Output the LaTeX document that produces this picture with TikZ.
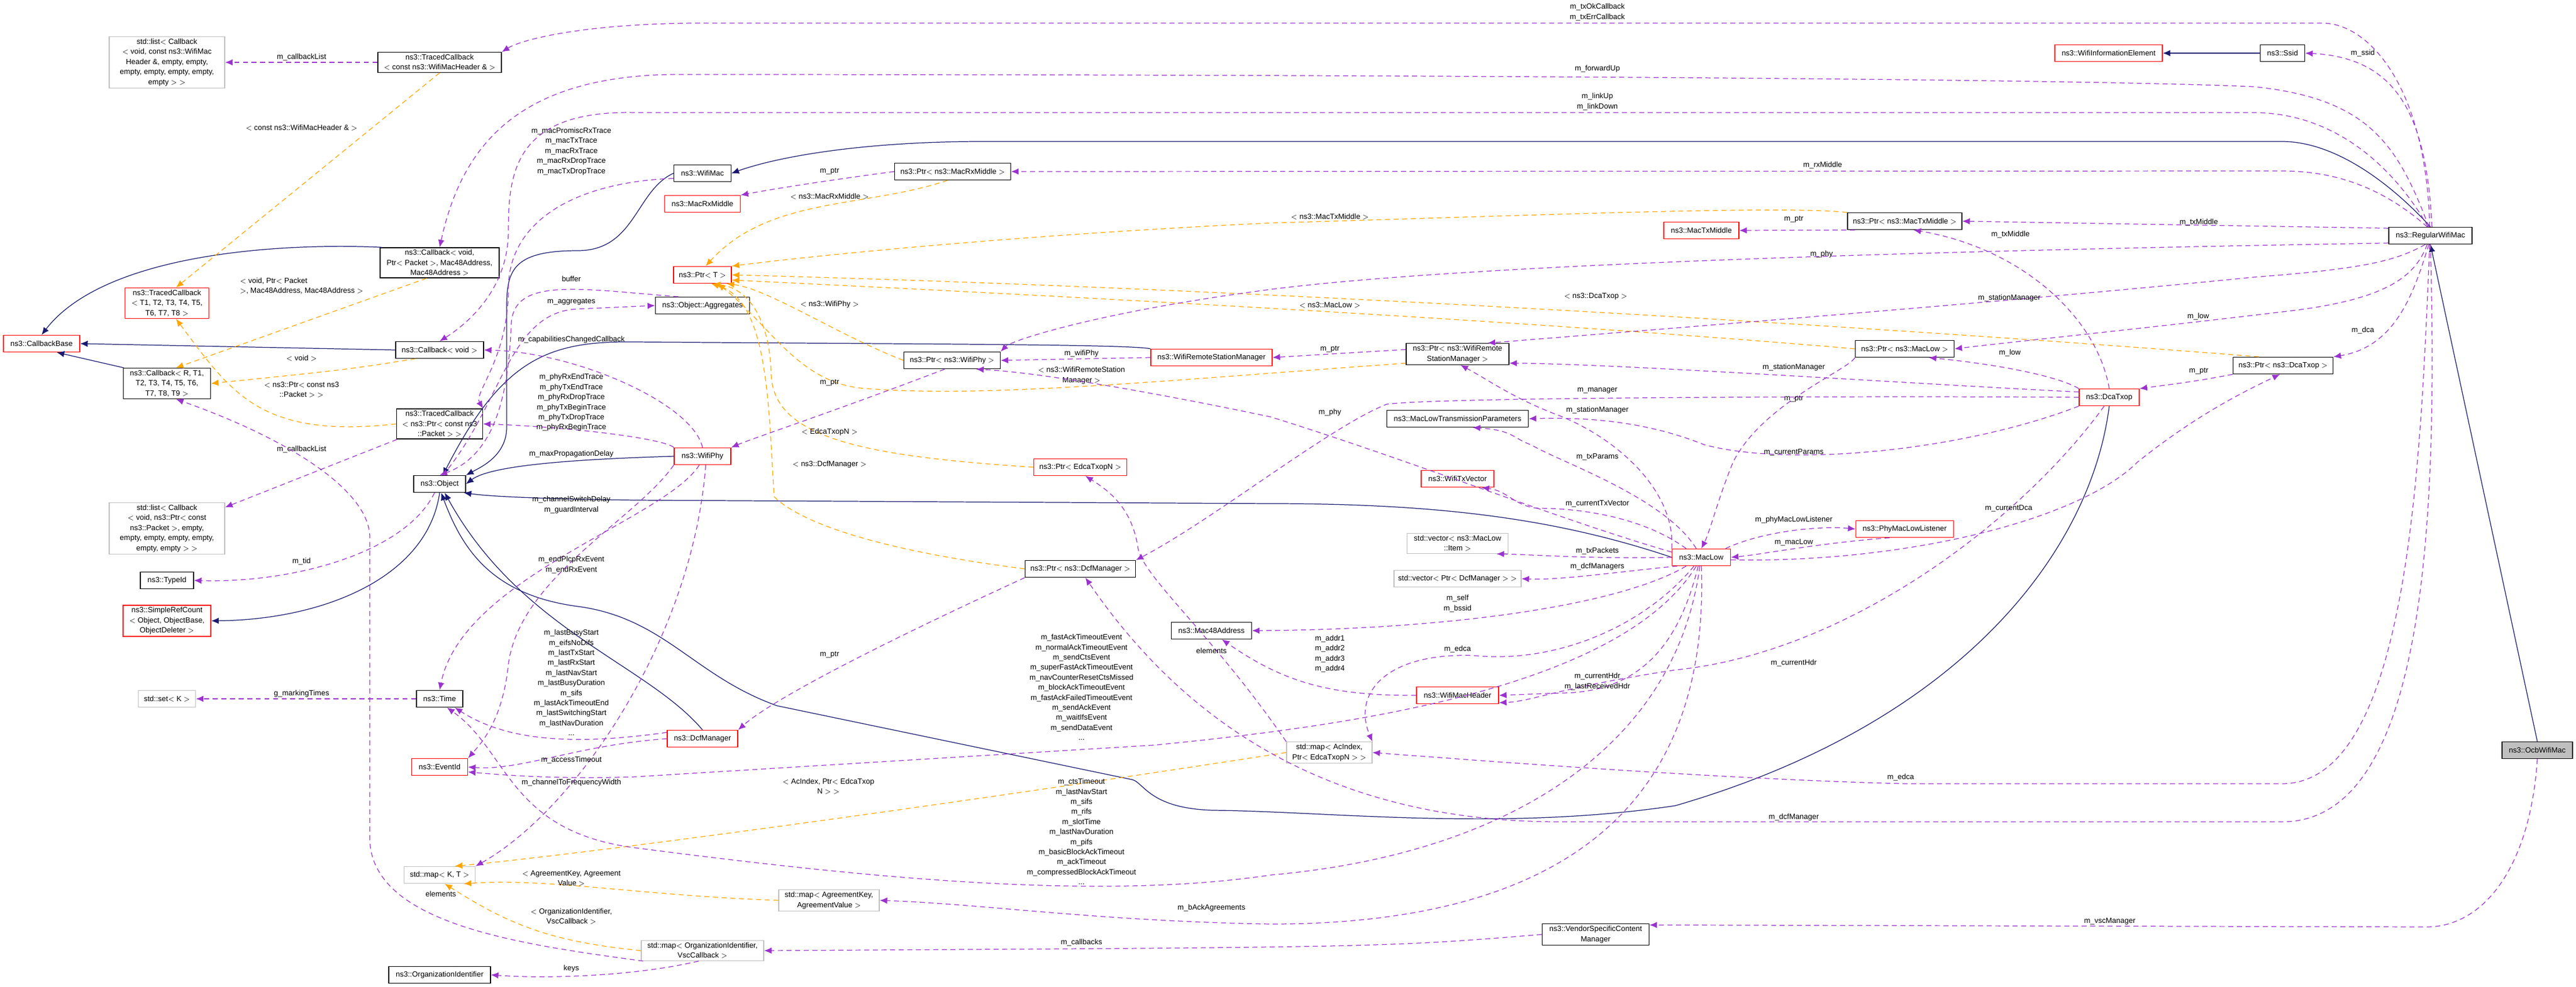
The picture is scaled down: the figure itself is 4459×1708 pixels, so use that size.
\documentclass[tikz,border=0pt]{standalone}
\usepackage{fontspec}
\setmainfont{Liberation Sans}
\usetikzlibrary{arrows.meta}
\definecolor{inhcol}{HTML}{191970}
\definecolor{usecol}{HTML}{9A32CD}
\definecolor{tplcol}{HTML}{FFA500}
\definecolor{stdcol}{HTML}{BFBFBF}

\begin{document}
\begin{tikzpicture}[
                      x = 0.02cm,
                      y = -0.02cm,
      every node/.style = {font=\fontsize{7.4}{9.9}\selectfont, align=center, inner sep=2pt},
              cls/.style = {draw=black, line width=0.8pt, minimum height=0.58cm},
           redcls/.style = {cls, draw=red},
           stdcls/.style = {cls, draw=stdcol},
              lbl/.style = {inner sep=0pt},
              inh/.style = {draw=inhcol, line width=0.7pt, -{Latex[length=2.6mm,width=2.2mm]}},
              use/.style = {draw=usecol, line width=0.7pt, dash pattern=on 5pt off 3.5pt, -{Latex[length=2.6mm,width=2.2mm]}},
              tpl/.style = {use, draw=tplcol},
                     ]
\useasboundingbox (0,0) rectangle (4459,1708);

% classes, left column
\node[stdcls, minimum width=4cm] (stdListHdr) at (289,108) {std::list$<$ Callback\\$<$ void, const ns3::WifiMac\\Header \&, empty, empty,\\empty, empty, empty, empty,\\empty $>$ $>$};
\node[redcls, minimum width=2.9cm] (tcbT) at (289,525) {ns3::TracedCallback\\$<$ T1, T2, T3, T4, T5,\\T6, T7, T8 $>$};
\node[redcls, minimum width=2.64cm] (cbBase) at (72,595) {ns3::CallbackBase};
\node[cls, minimum width=3.02cm] (cbR) at (289,664) {ns3::Callback$<$ R, T1,\\T2, T3, T4, T5, T6,\\T7, T8, T9 $>$};
\node[stdcls, minimum width=4cm] (stdListPkt) at (289,915) {std::list$<$ Callback\\$<$ void, ns3::Ptr$<$ const\\ns3::Packet $>$, empty,\\empty, empty, empty, empty,\\empty, empty $>$ $>$};
\node[cls, minimum width=1.84cm] (typeId) at (289,1005) {ns3::TypeId};
\node[redcls, minimum width=3.04cm] (refCount) at (289,1075) {ns3::SimpleRefCount\\$<$ Object, ObjectBase,\\ObjectDeleter $>$};
\node[stdcls, minimum width=1.98cm] (stdSet) at (289,1210) {std::set$<$ K $>$};

% classes, second column
\node[cls, minimum width=4.28cm] (tcbHdr) at (761,108) {ns3::TracedCallback\\$<$ const ns3::WifiMacHeader \& $>$};
\node[cls, minimum width=4.12cm] (cbMac48) at (761,455) {ns3::Callback$<$ void,\\Ptr$<$ Packet $>$, Mac48Address,\\Mac48Address $>$};
\node[cls, minimum width=3.04cm] (cbVoid) at (761,606) {ns3::Callback$<$ void $>$};
\node[cls, minimum width=2.98cm] (tcbPkt) at (761,734) {ns3::TracedCallback\\$<$ ns3::Ptr$<$ const ns3\\::Packet $>$ $>$};
\node[cls, minimum width=1.8cm] (object) at (761,838) {ns3::Object};
\node[cls, minimum width=1.6cm] (time) at (761,1210) {ns3::Time};
\node[redcls, minimum width=1.94cm] (eventId) at (761,1328) {ns3::EventId};
\node[stdcls, minimum width=2.46cm] (stdMap) at (761,1515) {std::map$<$ K, T $>$};
\node[cls, minimum width=3.52cm] (orgId) at (761,1688) {ns3::OrganizationIdentifier};

% classes, third column
\node[cls, minimum width=1.98cm] (wifiMac) at (1216,300) {ns3::WifiMac};
\node[redcls, minimum width=2.62cm] (macRxMiddle) at (1216,353) {ns3::MacRxMiddle};
\node[redcls, minimum width=2cm] (ptrT) at (1216,476) {ns3::Ptr$<$ T $>$};
\node[cls, minimum width=3.26cm] (aggregates) at (1216,529) {ns3::Object::Aggregates};
\node[redcls, minimum width=1.96cm] (wifiPhy) at (1216,790) {ns3::WifiPhy};
\node[redcls, minimum width=2.44cm] (dcfManager) at (1216,1279) {ns3::DcfManager};
\node[stdcls, minimum width=4.24cm] (mapOrg) at (1216,1646) {std::map$<$ OrganizationIdentifier,\\VscCallback $>$};
\node[stdcls, minimum width=3.48cm] (mapAgreement) at (1435,1559) {std::map$<$ AgreementKey,\\AgreementValue $>$};

% classes, middle
\node[cls, minimum width=4.02cm] (ptrRxMiddle) at (1649,297) {ns3::Ptr$<$ ns3::MacRxMiddle $>$};
\node[cls, minimum width=3.34cm] (ptrWifiPhy) at (1648,624) {ns3::Ptr$<$ ns3::WifiPhy $>$};
\node[redcls, minimum width=3.22cm] (ptrEdca) at (1870,809) {ns3::Ptr$<$ EdcaTxopN $>$};
\node[cls, minimum width=3.82cm] (ptrDcfManager) at (1870,985) {ns3::Ptr$<$ ns3::DcfManager $>$};
\node[redcls, minimum width=4.2cm] (stationManager) at (2097,619) {ns3::WifiRemoteStationManager};
\node[cls, minimum width=2.78cm] (mac48) at (2097,1092) {ns3::Mac48Address};
\node[stdcls, minimum width=2.96cm] (mapAc) at (2301,1303) {std::map$<$ AcIndex,\\Ptr$<$ EdcaTxopN $>$ $>$};
\node[cls, minimum width=3.56cm] (ptrStation) at (2523,613) {ns3::Ptr$<$ ns3::WifiRemote\\StationManager $>$};
\node[cls, minimum width=4.9cm] (lowParams) at (2523,725) {ns3::MacLowTransmissionParameters};
\node[redcls, minimum width=2.52cm] (txVector) at (2523,829) {ns3::WifiTxVector};
\node[stdcls, minimum width=3.5cm] (vecItem) at (2523,941) {std::vector$<$ ns3::MacLow\\::Item $>$};
\node[stdcls, minimum width=4.4cm] (vecDcf) at (2523,1002) {std::vector$<$ Ptr$<$ DcfManager $>$ $>$};
\node[redcls, minimum width=2.84cm] (macHeader) at (2523,1204) {ns3::WifiMacHeader};
\node[cls, minimum width=3.7cm] (vscManager) at (2762,1618) {ns3::VendorSpecificContent\\Manager};
\node[redcls, minimum width=2.6cm] (macTxMiddle) at (2945,399) {ns3::MacTxMiddle};
\node[redcls, minimum width=2.02cm] (macLow) at (2945,965) {ns3::MacLow};

% classes, right
\node[cls, minimum width=3.96cm] (ptrTxMiddle) at (3297,383) {ns3::Ptr$<$ ns3::MacTxMiddle $>$};
\node[cls, minimum width=3.42cm] (ptrMacLow) at (3297,604) {ns3::Ptr$<$ ns3::MacLow $>$};
\node[redcls, minimum width=3.38cm] (phyListener) at (3297,916) {ns3::PhyMacLowListener};
\node[redcls, minimum width=3.72cm] (infoElement) at (3650,92) {ns3::WifiInformationElement};
\node[cls, minimum width=1.54cm] (ssid) at (3951,92) {ns3::Ssid};
\node[redcls, minimum width=2.08cm] (dcaTxop) at (3651,688) {ns3::DcaTxop};
\node[cls, minimum width=3.46cm] (ptrDcaTxop) at (3952,633) {ns3::Ptr$<$ ns3::DcaTxop $>$};
\node[cls, minimum width=2.88cm] (regMac) at (4207,408) {ns3::RegularWifiMac};
\node[cls, minimum width=2.44cm, fill=stdcol] (ocbMac) at (4392,1299) {ns3::OcbWifiMac};

% inheritance
\draw[inh] (cbMac48.165) .. controls (480,420) and (180,440) .. (cbBase.north);
\draw[inh] (cbVoid.west) -- (cbBase.east);
\draw[inh] (cbR.160) -- (cbBase.-30);
\draw[inh] (object.south) .. controls (740,1000) and (560,1073) .. (refCount.east);
\draw[inh] (wifiMac.west) .. controls (1100,330) and (1100,434) .. (1000,434) .. controls (870,434) and (877,480) .. (877,560) -- (877,740) .. controls (877,790) and (830,810) .. (object.north east);
\draw[inh] (wifiPhy.west) .. controls (1000,795) and (850,805) .. (object.east) node[lbl] at (989,786) {m\_maxPropagationDelay};
\draw[inh] (stationManager.north west) .. controls (1950,596) and (1600,596) .. (1100,592) .. controls (950,590) and (870,620) .. (object.70);
\draw[inh] (dcfManager.north) .. controls (1120,1150) and (900,1090) .. (object.-60);
\draw[inh] (macLow.west) .. controls (2700,900) and (2500,872) .. (2200,872) -- (1100,866) .. controls (950,864) and (850,860) .. (object.-20);
\draw[inh] (dcaTxop.south) .. controls (3620,950) and (3400,1250) .. (2900,1395) .. controls (2600,1440) and (2300,1405) .. (2100,1403) .. controls (1990,1400) and (1980,1355) .. (1960,1350) -- (1345,1222) .. controls (1200,1170) and (1150,1070) .. (1000,1050) .. controls (850,1030) and (800,950) .. (object.-80);
\draw[inh] (regMac.north) .. controls (4150,330) and (4050,245) .. (3950,245) -- (1700,245) .. controls (1500,245) and (1350,270) .. (wifiMac.east);
\draw[inh] (ocbMac.north) -- (regMac.south);
\draw[inh] (ssid.west) -- (infoElement.east);

% template instances
\draw[tpl] (tcbHdr.south) -- (tcbT.60) node[lbl] at (522,221) {$<$ const ns3::WifiMacHeader \& $>$};
\draw[tpl] (cbMac48.-130) -- (cbR.60) node[lbl, align=left] at (522,495) {$<$ void, Ptr$<$ Packet\\$>$, Mac48Address, Mac48Address $>$};
\draw[tpl] (cbVoid.-160) .. controls (600,640) .. (cbR.east) node[lbl] at (522,620) {$<$ void $>$};
\draw[tpl] (tcbPkt.west) .. controls (450,760) and (400,680) .. (tcbT.-60) node[lbl] at (522,675) {$<$ ns3::Ptr$<$ const ns3\\::Packet $>$ $>$};
\draw[tpl] (ptrRxMiddle.-120) .. controls (1500,360) and (1330,340) .. (ptrT.70) node[lbl] at (1436,340) {$<$ ns3::MacRxMiddle $>$};
\draw[tpl] (ptrTxMiddle.north west) .. controls (3080,355) and (2600,375) .. (2200,386) .. controls (1700,410) and (1350,450) .. (ptrT.north east) node[lbl] at (2302,375) {$<$ ns3::MacTxMiddle $>$};
\draw[tpl] (ptrDcaTxop.160) .. controls (3300,569) and (2200,500) .. (ptrT.east) node[lbl] at (2762,513) {$<$ ns3::DcaTxop $>$};
\draw[tpl] (ptrMacLow.west) .. controls (2700,560) and (2000,520) .. (ptrT.-10) node[lbl] at (2302,528) {$<$ ns3::MacLow $>$};
\draw[tpl] (ptrWifiPhy.west) .. controls (1450,580) and (1330,500) .. (ptrT.-20) node[lbl] at (1436,527) {$<$ ns3::WifiPhy $>$};
\draw[tpl] (ptrStation.-170) .. controls (2000,660) and (1700,690) .. (1490,672) .. controls (1380,660) and (1330,560) .. (ptrT.-30) node[lbl] at (1872,650) {$<$ ns3::WifiRemoteStation\\Manager $>$};
\draw[tpl] (ptrEdca.west) .. controls (1500,790) and (1340,760) .. (1335,650) .. controls (1333,560) and (1300,500) .. (ptrT.-40) node[lbl] at (1436,748) {$<$ EdcaTxopN $>$};
\draw[tpl] (ptrDcfManager.west) .. controls (1500,950) and (1380,900) .. (1340,860) .. controls (1330,700) and (1330,520) .. (ptrT.-45) node[lbl] at (1436,804) {$<$ ns3::DcfManager $>$};
\draw[tpl] (mapAc.west) .. controls (1600,1400) and (1000,1480) .. (stdMap.30) node[lbl] at (1434,1362) {$<$ AcIndex, Ptr$<$ EdcaTxop\\N $>$ $>$};
\draw[tpl] (mapAgreement.west) .. controls (1100,1550) and (950,1520) .. (stdMap.-20) node[lbl] at (989,1521) {$<$ AgreementKey, Agreement\\Value $>$};
\draw[tpl] (mapOrg.west) .. controls (950,1630) and (880,1600) .. (stdMap.-60) node[lbl] at (989,1587) {$<$ OrganizationIdentifier,\\VscCallback $>$};

% members, left part
\draw[use] (tcbHdr.west) -- (stdListHdr.east) node[lbl] at (522,99) {m\_callbackList};
\draw[use] (tcbPkt.-160) -- (stdListPkt.20) node[lbl] at (522,778) {m\_callbackList};
\draw[use] (mapOrg.-170) .. controls (900,1635) and (640,1600) .. (640,1450) -- (640,930) .. controls (640,850) and (500,760) .. (cbR.-60) node[lbl] at (763,1548) {elements};
\draw[use] (object.-120) .. controls (700,960) and (500,1010) .. (typeId.east) node[lbl] at (522,972) {m\_tid};
\draw[use] (time.west) -- (stdSet.east) node[lbl] at (522,1201) {g\_markingTimes};
\draw[use] (mapOrg.-110) .. controls (1100,1690) and (950,1695) .. (orgId.east) node[lbl] at (989,1677) {keys};
\draw[use] (vscManager.west) .. controls (2400,1640) .. (mapOrg.east) node[lbl] at (1872,1632) {m\_callbacks};
\draw[use] (ocbMac.south) .. controls (4380,1500) and (4300,1605) .. (4200,1605) -- (vscManager.10) node[lbl] at (3652,1595) {m\_vscManager};
\draw[use] (object.70) .. controls (870,700) and (880,540) .. (1000,535) -- (aggregates.west) node[lbl] at (989,523) {m\_aggregates};
\draw[use] (aggregates.160) .. controls (1000,500) and (890,480) .. (885,560) .. controls (880,700) and (850,790) .. (object.north) node[lbl] at (989,483) {buffer};
\draw[use] (wifiMac.-170) .. controls (1000,315) and (880,380) .. (880,500) .. controls (880,620) and (820,680) .. (tcbPkt.north east) node[lbl] at (989,262) {m\_macPromiscRxTrace\\m\_macTxTrace\\m\_macRxTrace\\m\_macRxDropTrace\\m\_macTxDropTrace};
\draw[use] (wifiPhy.north west) .. controls (1150,760) and (1000,740) .. (tcbPkt.east) node[lbl] at (989,697) {m\_phyRxEndTrace\\m\_phyTxEndTrace\\m\_phyRxDropTrace\\m\_phyTxBeginTrace\\m\_phyTxDropTrace\\m\_phyRxBeginTrace};
\draw[use] (wifiPhy.north) .. controls (1200,700) and (1000,610) .. (cbVoid.east) node[lbl] at (989,588) {m\_capabilitiesChangedCallback};
\draw[use] (wifiPhy.-110) .. controls (1150,900) and (800,1000) .. (time.north) node[lbl] at (989,874) {m\_channelSwitchDelay\\m\_guardInterval};
\draw[use] (wifiPhy.south west) .. controls (1100,900) and (900,1000) .. (880,1150) .. controls (870,1250) and (830,1290) .. (eventId.north east) node[lbl] at (989,978) {m\_endPlcpRxEvent\\m\_endRxEvent};
\draw[use] (wifiPhy.-70) .. controls (1200,1100) and (1000,1400) .. (stdMap.north east) node[lbl] at (989,1355) {m\_channelToFrequencyWidth};
\draw[use] (dcfManager.170) .. controls (1000,1290) and (880,1285) .. (time.-30) node[lbl] at (989,1182) {m\_lastBusyStart\\m\_eifsNoDifs\\m\_lastTxStart\\m\_lastRxStart\\m\_lastNavStart\\m\_lastBusyDuration\\m\_sifs\\m\_lastAckTimeoutEnd\\m\_lastSwitchingStart\\m\_lastNavDuration\\...};
\draw[use] (dcfManager.west) .. controls (1000,1290) and (900,1335) .. (eventId.east) node[lbl] at (989,1316) {m\_accessTimeout};

% members of the regular mac
\draw[use] (regMac.95) .. controls (4200,150) and (4100,40) .. (4020,40) -- (1200,40) .. controls (1000,42) and (900,70) .. (tcbHdr.north east) node[lbl] at (2765,21) {m\_txOkCallback\\m\_txErrCallback};
\draw[use] (regMac.100) .. controls (4150,250) and (4100,170) .. (3900,150) .. controls (3500,133) and (2000,129) .. (1190,129) .. controls (900,125) and (800,250) .. (cbMac48.north) node[lbl] at (2765,119) {m\_forwardUp};
\draw[use] (regMac.105) .. controls (4150,300) and (4050,195) .. (3900,195) -- (1100,195) .. controls (890,190) and (880,300) .. (880,400) .. controls (880,500) and (810,560) .. (cbVoid.north) node[lbl] at (2765,176) {m\_linkUp\\m\_linkDown};
\draw[use] (regMac.110) .. controls (4130,330) and (4050,296) .. (3950,296) -- (ptrRxMiddle.east) node[lbl] at (3155,286) {m\_rxMiddle};
\draw[use] (regMac.170) -- (ptrTxMiddle.east) node[lbl] at (3806,385) {m\_txMiddle};
\draw[use] (regMac.190) .. controls (3600,430) and (2600,450) .. (2200,501) .. controls (1900,540) and (1750,590) .. (ptrWifiPhy.north east) node[lbl] at (3153,440) {m\_phy};
\draw[use] (regMac.-120) .. controls (4150,450) and (4100,465) .. (3900,480) .. controls (3500,520) and (3000,560) .. (ptrStation.20) node[lbl] at (3478,516) {m\_stationManager};
\draw[use] (regMac.-110) .. controls (4180,480) and (4130,520) .. (3950,540) .. controls (3700,570) and (3500,590) .. (ptrMacLow.east) node[lbl] at (3805,548) {m\_low};
\draw[use] (regMac.-100) .. controls (4180,500) and (4150,600) .. (ptrDcaTxop.north east) node[lbl] at (4090,572) {m\_dca};
\draw[use] (regMac.80) .. controls (4200,200) and (4150,100) .. (ssid.east) node[lbl] at (4090,92) {m\_ssid};
\draw[use] (regMac.-95) .. controls (4190,800) and (4170,1357) .. (3950,1357) -- (3300,1357) .. controls (3000,1350) and (2600,1320) .. (mapAc.east) node[lbl] at (3290,1346) {m\_edca};
\draw[use] (regMac.-90) .. controls (4220,900) and (4200,1423) .. (3950,1423) -- (2700,1423) .. controls (2300,1423) and (2050,1250) .. (ptrDcfManager.-60) node[lbl] at (3105,1415) {m\_dcfManager};

% members of the dca and pointers
\draw[use] (ptrRxMiddle.west) .. controls (1450,310) and (1350,325) .. (macRxMiddle.north east) node[lbl] at (1436,297) {m\_ptr};
\draw[use] (ptrTxMiddle.-170) -- (macTxMiddle.east) node[lbl] at (3105,380) {m\_ptr};
\draw[use] (ptrWifiPhy.-130) .. controls (1450,710) and (1300,760) .. (wifiPhy.north east) node[lbl] at (1436,663) {m\_ptr};
\draw[use] (ptrStation.175) -- (stationManager.east) node[lbl] at (2302,605) {m\_ptr};
\draw[use] (stationManager.west) -- (ptrWifiPhy.east) node[lbl] at (1872,612) {m\_wifiPhy};
\draw[use] (ptrDcfManager.south west) .. controls (1600,1080) and (1350,1200) .. (dcfManager.north east) node[lbl] at (1436,1134) {m\_ptr};
\draw[use] (ptrDcaTxop.south west) .. controls (3800,660) .. (dcaTxop.north east) node[lbl] at (3806,643) {m\_ptr};
\draw[use] (ptrMacLow.south west) .. controls (3200,640) and (3050,700) .. (3000,800) .. controls (2975,860) and (2960,920) .. (macLow.north) node[lbl] at (3105,691) {m\_ptr};
\draw[use] (mapAc.north west) .. controls (2100,1100) and (1980,1000) .. (1970,950) .. controls (1960,880) and (1920,850) .. (ptrEdca.-60) node[lbl] at (2097,1127) {elements};
\draw[use] (dcaTxop.west) .. controls (3400,686) and (2500,686) .. (2400,700) .. controls (2300,740) and (2100,900) .. (ptrDcfManager.north east) node[lbl] at (2765,676) {m\_manager};
\draw[use] (dcaTxop.north) .. controls (3630,550) and (3500,430) .. (ptrTxMiddle.-45) node[lbl] at (3480,406) {m\_txMiddle};
\draw[use] (dcaTxop.north west) .. controls (3560,650) and (3450,630) .. (ptrMacLow.-20) node[lbl] at (3479,611) {m\_low};
\draw[use] (dcaTxop.170) .. controls (3300,664) and (2800,630) .. (ptrStation.-10) node[lbl] at (3105,636) {m\_stationManager};
\draw[use] (dcaTxop.south west) .. controls (3400,780) and (3100,810) .. (2950,770) .. controls (2850,730) and (2750,722) .. (lowParams.east) node[lbl] at (3105,783) {m\_currentParams};
\draw[use] (dcaTxop.-120) .. controls (3500,900) and (3200,1130) .. (2900,1160) .. controls (2700,1190) and (2650,1215) .. (macHeader.-10) node[lbl] at (3105,1148) {m\_currentHdr};

% members of the mac low
\draw[use] (macLow.-5) .. controls (3300,975) and (3600,900) .. (3700,800) .. controls (3800,720) and (3880,680) .. (ptrDcaTxop.-110) node[lbl] at (3477,880) {m\_currentDca};
\draw[use] (macLow.north west) .. controls (2900,850) and (2800,760) .. (2700,720) .. controls (2620,690) and (2580,660) .. (ptrStation.-75) node[lbl] at (2765,710) {m\_stationManager};
\draw[use] (macLow.120) .. controls (2880,860) and (2700,800) .. (2650,770) .. controls (2620,760) and (2620,745) .. (lowParams.-30) node[lbl] at (2765,791) {m\_txParams};
\draw[use] (macLow.150) .. controls (2850,900) and (2750,880) .. (2660,880) .. controls (2620,875) and (2610,850) .. (txVector.-20) node[lbl] at (2765,872) {m\_currentTxVector};
\draw[use] (macLow.20) .. controls (3050,920) and (3150,910) .. (phyListener.west) node[lbl] at (3105,900) {m\_phyMacLowListener};
\draw[use] (phyListener.-150) .. controls (3150,940) and (3050,960) .. (macLow.east) node[lbl] at (3105,939) {m\_macLow};
\draw[use] (macLow.west) .. controls (2750,968) and (2650,960) .. (vecItem.-15) node[lbl] at (2765,954) {m\_txPackets};
\draw[use] (macLow.-160) .. controls (2800,990) and (2700,1005) .. (vecDcf.east) node[lbl] at (2765,981) {m\_dcfManagers};
\draw[use] (macLow.-150) .. controls (2800,1050) and (2500,1090) .. (mac48.east) node[lbl] at (2523,1045) {m\_self\\m\_bssid};
\draw[use] (macLow.-130) .. controls (2850,1080) and (2700,1150) .. (2550,1135) .. controls (2400,1130) and (2340,1200) .. (mapAc.north east) node[lbl] at (2523,1124) {m\_edca};
\draw[use] (macLow.-110) .. controls (2910,1100) and (2850,1200) .. (2700,1200) -- (macHeader.east) node[lbl] at (2765,1180) {m\_currentHdr\\m\_lastReceivedHdr};
\draw[use] (macHeader.west) .. controls (2300,1205) and (2220,1180) .. (mac48.-40) node[lbl] at (2302,1132) {m\_addr1\\m\_addr2\\m\_addr3\\m\_addr4};
\draw[use] (macLow.170) .. controls (2700,900) and (2450,800) .. (2200,722) .. controls (2000,680) and (1800,645) .. (ptrWifiPhy.-20) node[lbl] at (2302,714) {m\_phy};
\draw[use] (macLow.-120) .. controls (2800,1200) and (2300,1260) .. (2000,1290) -- (1100,1345) .. controls (950,1350) and (850,1340) .. (eventId.-10) node[lbl] at (1872,1190) {m\_fastAckTimeoutEvent\\m\_normalAckTimeoutEvent\\m\_sendCtsEvent\\m\_superFastAckTimeoutEvent\\m\_navCounterResetCtsMissed\\m\_blockAckTimeoutEvent\\m\_fastAckFailedTimeoutEvent\\m\_sendAckEvent\\m\_waitIfsEvent\\m\_sendDataEvent\\...};
\draw[use] (macLow.-100) .. controls (2900,1300) and (2600,1480) .. (2200,1515) .. controls (1900,1560) and (1500,1520) .. (1100,1468) .. controls (880,1440) and (880,1300) .. (time.-50) node[lbl] at (1872,1440) {m\_ctsTimeout\\m\_lastNavStart\\m\_sifs\\m\_rifs\\m\_slotTime\\m\_lastNavDuration\\m\_pifs\\m\_basicBlockAckTimeout\\m\_ackTimeout\\m\_compressedBlockAckTimeout\\...};
\draw[use] (macLow.-90) .. controls (2960,1400) and (2700,1600) .. (2200,1600) .. controls (1900,1595) and (1700,1565) .. (mapAgreement.east) node[lbl] at (2097,1572) {m\_bAckAgreements};
\end{tikzpicture}
\end{document}
